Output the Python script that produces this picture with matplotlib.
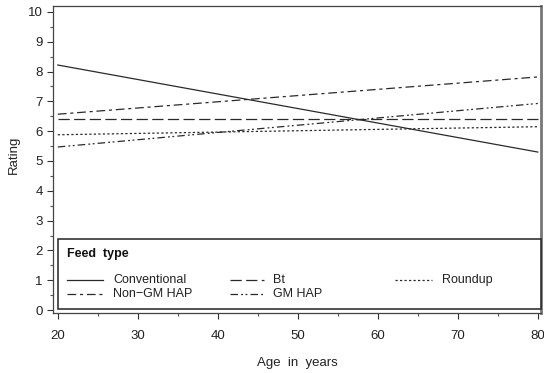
import matplotlib
matplotlib.use("Agg")
import matplotlib.pyplot as plt
from matplotlib.ticker import MultipleLocator
from matplotlib.lines import Line2D
from matplotlib.patches import Rectangle

plt.rcParams['font.family'] = ['Liberation Sans', 'DejaVu Sans']

ages = [20, 80]
series_names = ["Conventional", "Bt", "Roundup", "Non\u2212GM HAP", "GM HAP"]
conventional = [8.22, 5.30]
bt = [6.42, 6.42]
roundup = [5.88, 6.15]
non_gm_hap = [6.57, 7.82]
gm_hap = [5.47, 6.93]
x_ticks = [20, 30, 40, 50, 60, 70, 80]
y_ticks = list(range(0, 11))

styles = {
    "Conventional": '-',
    "Bt": (0, (9, 3.5)),
    "Roundup": (0, (1.8, 1.8)),
    "Non\u2212GM HAP": (0, (7, 3, 2.5, 3)),
    "GM HAP": (0, (6, 2.5, 1.5, 2, 1.5, 2.5)),
}
values = {
    "Conventional": conventional,
    "Bt": bt,
    "Roundup": roundup,
    "Non\u2212GM HAP": non_gm_hap,
    "GM HAP": gm_hap,
}
LC = '#2a2a2a'
FS = 9

fig = plt.figure(figsize=(5.44, 3.73), dpi=100)
W, H = 544, 373
ax = fig.add_axes([53/W, 1 - 313/H, 488/W, 307/H])

for name in series_names:
    ax.plot(ages, values[name], color=LC, lw=0.9, linestyle=styles[name])

ax.set_xlim(19.4, 80.4)
ax.set_ylim(-0.1, 10.2)
ax.set_xticks(x_ticks)
ax.set_yticks(y_ticks)
ax.xaxis.set_minor_locator(MultipleLocator(5))
ax.yaxis.set_minor_locator(MultipleLocator(0.5))
ax.tick_params(which='major', direction='out', length=4, width=0.8,
               labelsize=9.5, colors='#333333', labelcolor='#222222')
ax.tick_params(which='minor', direction='out', length=2.5, width=0.8, colors='#555555')
ax.tick_params(axis='x', pad=8)
for s in ax.spines.values():
    s.set_color('#444444')
    s.set_linewidth(0.9)
ax.spines['right'].set_linewidth(2.0)
ax.spines['right'].set_color('#777777')

ax.set_xlabel("Age  in  years", fontsize=9.5, color='#222222')
ax.set_ylabel("Rating", fontsize=9.5, color='#222222')
ax.xaxis.set_label_coords(0.5, -0.143)
ax.yaxis.set_label_coords(-0.068, 0.515)

# Legend (manual layout in axes coordinates)
def axx(px):
    return (px - 53) / 488
def axy(py):
    return (313 - py) / 307

ax.add_patch(Rectangle((axx(58), axy(309)), axx(541) - axx(58), axy(239) - axy(309),
                       transform=ax.transAxes, fill=True, facecolor='white',
                       edgecolor='#222222', lw=1.1, zorder=5, clip_on=False))
ax.text(axx(67), axy(254), "Feed  type", transform=ax.transAxes, fontsize=FS,
        fontweight='bold', va='center', ha='left', zorder=6, color='#111111')

legend_layout = [
    ("Conventional", 67, 103, 113, 280),
    ("Bt", 230, 264, 273, 280),
    ("Roundup", 395, 432, 442, 280),
    ("Non\u2212GM HAP", 67, 103, 113, 294),
    ("GM HAP", 230, 264, 273, 294),
]
for name, hx0, hx1, tx, ty in legend_layout:
    ax.add_line(Line2D([axx(hx0), axx(hx1)], [axy(ty), axy(ty)], transform=ax.transAxes,
                       color=LC, lw=0.9, linestyle=styles[name], zorder=6, clip_on=False))
    ax.text(axx(tx), axy(ty), name, transform=ax.transAxes, fontsize=FS,
            va='center', ha='left', zorder=6, color='#222222')

fig.savefig("out.png", dpi=100)
